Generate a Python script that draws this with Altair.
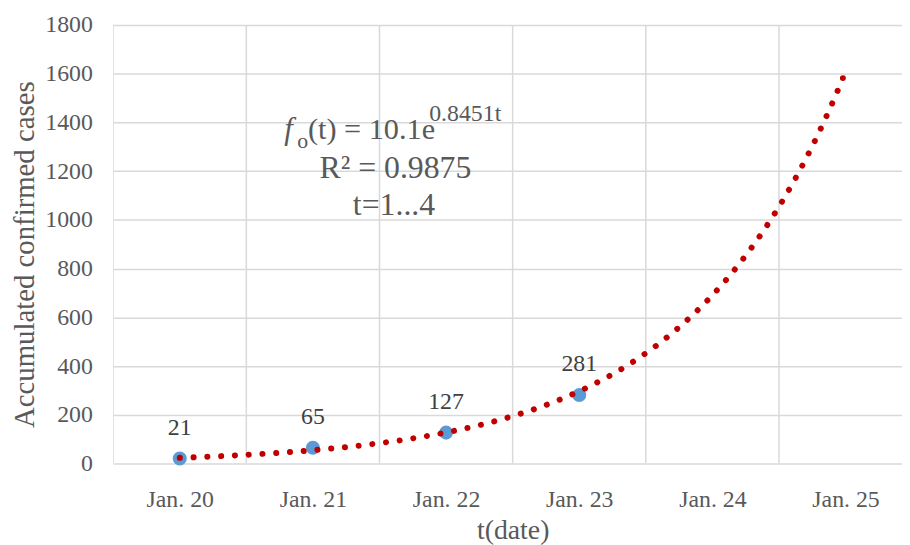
import altair as alt
import numpy as np
import pandas as pd

# ---- data ----
categories = ["Jan. 20", "Jan. 21", "Jan. 22", "Jan. 23", "Jan. 24", "Jan. 25"]
t_values = [1, 2, 3, 4]
cases = [21, 65, 127, 281]
y_ticks = [0, 200, 400, 600, 800, 1000, 1200, 1400, 1600, 1800]

# exponential trend line fitted as Excel does (least squares on ln y)
b_coef, ln_a = np.polyfit(t_values, np.log(cases), 1)
a_coef = float(np.exp(ln_a))
b_coef = float(b_coef)

# layout constants
W, H = 795, 442
X_DOMAIN = [0.5, 6.424]
Y_DOMAIN = [0, 1800]
T_END = 5.98

# choose a dot spacing so that the dotted trend ends on a dot
px_t = W / (X_DOMAIN[1] - X_DOMAIN[0])
px_v = H / (Y_DOMAIN[1] - Y_DOMAIN[0])
tt = np.linspace(1, T_END, 4000)
xs = tt * px_t
ys = a_coef * np.exp(b_coef * tt) * px_v
arc = float(np.sum(np.hypot(np.diff(xs), np.diff(ys))))
period = arc / round(arc / 13.8)

points = pd.DataFrame({"t": t_values, "cases": cases})
bounds = pd.DataFrame({"b": [i + 0.5 for i in range(len(categories) + 1)]})
one = pd.DataFrame({"k": [0]})
label_expr = "[" + ",".join("'" + c + "'" for c in categories) + "][datum.value - 1]"

FONT = "Liberation Serif"
GRID = "#D9D9D9"
TXT = "#595959"

x_scale = alt.Scale(domain=X_DOMAIN, nice=False, zero=False)
y_scale = alt.Scale(domain=Y_DOMAIN, nice=False)

x_axis = alt.Axis(
    values=list(range(1, len(categories) + 1)), labelExpr=label_expr,
    grid=False, domain=False, ticks=False, tickSize=0,
    labelPadding=43, labelBaseline="alphabetic", labelFontSize=24,
    labelColor=TXT, labelFont=FONT,
    title="t(date)", titleFontSize=28, titleFont=FONT, titleColor=TXT,
    titleFontWeight="normal", titleX=402.6, titleY=76,
    titleBaseline="alphabetic", titleAlign="center",
)
y_axis = alt.Axis(
    values=y_ticks, format="d", grid=True, gridColor=GRID, gridWidth=1.5,
    domain=False, ticks=False, tickSize=0, labelPadding=21,
    labelFontSize=24, labelColor=TXT, labelFont=FONT, labelBaseline="middle",
    title="Accumulated confirmed cases", titleFontSize=29, titleFont=FONT,
    titleColor=TXT, titleFontWeight="normal", titleAngle=270,
    titleX=-80, titleY=231, titleBaseline="alphabetic", titleAlign="center",
)

rules = alt.Chart(bounds).mark_rule(color=GRID, strokeWidth=1.5, clip=True).encode(
    x=alt.X("b:Q", scale=x_scale, axis=x_axis)
)

pts = alt.Chart(points).mark_circle(size=200, color="#5B9BD5", opacity=1).encode(
    x=alt.X("t:Q", scale=x_scale),
    y=alt.Y("cases:Q", scale=y_scale, axis=y_axis),
)

trend = (
    alt.Chart(alt.sequence(1, T_END + 0.001, 0.01, as_="t"))
    .transform_calculate(fit=f"{a_coef} * exp({b_coef} * datum.t)")
    .mark_line(color="#C00000", strokeWidth=6, strokeDash=[0.1, period - 0.1], strokeCap="round")
    .encode(x=alt.X("t:Q", scale=x_scale), y=alt.Y("fit:Q", scale=y_scale))
)

labels = alt.Chart(points).mark_text(
    dy=-24, baseline="alphabetic", fontSize=24, color="#404040", font=FONT
).encode(x=alt.X("t:Q", scale=x_scale), y=alt.Y("cases:Q", scale=y_scale), text="cases:Q")


def note(text, x, y, size, align="left", style="normal"):
    return alt.Chart(one).mark_text(
        text=text, align=align, baseline="alphabetic", fontSize=size,
        color=TXT, font=FONT, fontStyle=style,
    ).encode(x=alt.value(x), y=alt.value(y))


notes = [
    note("f", 172.4, 114.5, 31, style="italic"),
    note("o", 185.5, 123.5, 22),
    note("(t) = 10.1e", 196.3, 114.5, 30.5),
    note("0.8451t", 318.5, 96.3, 24),
    note("R² = 0.9875", 284.5, 154, 32, align="center"),
    note("t=1...4", 283, 192, 32, align="center"),
]

chart = (
    alt.layer(rules, pts, trend, labels, *notes)
    .properties(
        width=W, height=H, autosize="none",
        padding={"left": 106, "top": 15, "right": 0, "bottom": 85},
        background="white",
    )
    .configure(font=FONT)
    .configure_view(stroke=None)
)

chart.save("out.html", embed_options={"renderer": "svg", "actions": False})
